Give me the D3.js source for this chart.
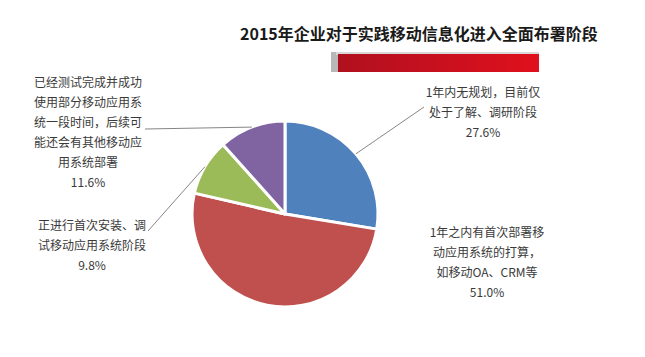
<!DOCTYPE html>
<html><head><meta charset="utf-8">
<script src="https://cdn.jsdelivr.net/npm/d3@7"></script>
<style>body{margin:0;background:#fff}svg{display:block}</style>
</head><body><svg id="c" width="645" height="357"></svg>
<script>
const title = "2015年企业对于实践移动信息化进入全面布署阶段";
const categories = ["1年内无规划，目前仅处于了解、调研阶段","1年之内有首次部署移动应用系统的打算，如移动OA、CRM等","正进行首次安装、调试移动应用系统阶段","已经测试完成并成功使用部分移动应用系统一段时间，后续可能还会有其他移动应用系统部署"];
const values = [27.6, 51.0, 9.8, 11.6];
const labelLines = [
  ["1年内无规划，目前仅","处于了解、调研阶段","27.6%"],
  ["1年之内有首次部署移","动应用系统的打算，","如移动OA、CRM等","51.0%"],
  ["正进行首次安装、调","试移动应用系统阶段","9.8%"],
  ["已经测试完成并成功","使用部分移动应用系","统一段时间，后续可","能还会有其他移动应","用系统部署","11.6%"]
];
const colors = ["#4f81bd","#c0504d","#9bbb59","#8064a2"];
// layout: label center x, first baseline y, leader start point (or null)
const labelLayout = [
  {x:483, y:97, lead:[424,107]},
  {x:487, y:237, lead:null},
  {x:92, y:230, lead:[148,231]},
  {x:88, y:87, lead:[145,129]}
];

const svg = d3.select("#c");
const defs = svg.append("defs");
const g1 = defs.append("linearGradient").attr("id","bar").attr("x1",0).attr("x2",1);
g1.append("stop").attr("offset",0).attr("stop-color","#b0101e");
g1.append("stop").attr("offset",0.5).attr("stop-color","#c8101f");
g1.append("stop").attr("offset",1).attr("stop-color","#e0101c");

svg.append("text").attr("x",240).attr("y",40).attr("font-family","Noto Sans CJK SC")
  .attr("font-weight","bold").attr("font-size",16).attr("fill","#1a1a1a").text(title);

// red decorative bar
svg.append("rect").attr("x",331).attr("y",52).attr("width",9).attr("height",20).attr("fill","#b8b8b8");
svg.append("rect").attr("x",336).attr("y",52).attr("width",203).attr("height",3).attr("fill","#d8d8d8");
svg.append("rect").attr("x",338).attr("y",54).attr("width",201).attr("height",18).attr("fill","url(#bar)");

const cx = 285, cy = 214, R = 93;
const pie = d3.pie().sort(null).value(d=>d);
const arc = d3.arc().innerRadius(0).outerRadius(R);
const arcs = pie(values);
const pg = svg.append("g").attr("transform",`translate(${cx},${cy})`);
pg.selectAll("path").data(arcs).join("path")
  .attr("d",arc).attr("fill",(d,i)=>colors[i])
  .attr("stroke","#fff").attr("stroke-width",3).attr("stroke-linejoin","round");

const font = "Noto Sans CJK SC";
labelLayout.forEach((L,i)=>{
  const t = svg.append("text").attr("font-family",font).attr("font-size",12).attr("fill","#3a3a3a").attr("text-anchor","middle");
  labelLines[i].forEach((ln,k)=>{
    t.append("tspan").attr("x",L.x).attr("y",L.y + k*20).text(ln);
  });
  if (L.lead){
    const a = arcs[i];
    const m = (a.startAngle + a.endAngle)/2;
    const px = cx + R*Math.sin(m), py = cy - R*Math.cos(m);
    svg.append("line").attr("x1",L.lead[0]).attr("y1",L.lead[1]).attr("x2",px).attr("y2",py)
      .attr("stroke","#666").attr("stroke-width",0.8);
  }
});
</script></body></html>
